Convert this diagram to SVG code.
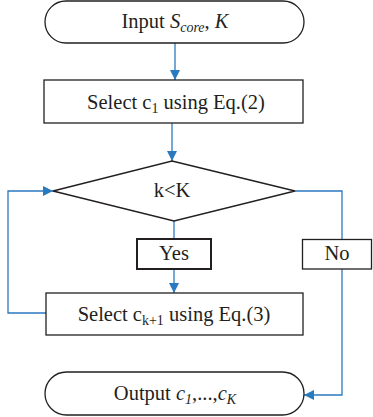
<svg xmlns="http://www.w3.org/2000/svg" width="373" height="417" viewBox="0 0 373 417">
<style>
.n{fill:#fff;stroke:#231f20;stroke-width:1.3}
.b{fill:#fff;stroke:#231f20;stroke-width:2}
.t{font-family:"Liberation Serif","Times New Roman",serif;font-size:20.5px;fill:#231f20;text-anchor:middle}
.c{fill:none;stroke:#2a7ac0;stroke-width:1.3}
</style>
<defs>
<marker id="ah" viewBox="0 0 10 10" refX="10" refY="5" markerWidth="10" markerHeight="10" markerUnits="userSpaceOnUse" orient="auto">
<path d="M0,0 L10,5 L0,10 Z" fill="#2a7ac0"/>
</marker>
</defs>
<g id="connectors">
<path class="c" d="M175,43 V80" marker-end="url(#ah)"/>
<path class="c" d="M172,123 V161" marker-end="url(#ah)"/>
<path class="c" d="M174,221 V239"/>
<path class="c" d="M174,269 V293" marker-end="url(#ah)"/>
<path class="c" d="M46,313 H8 V191 H53" marker-end="url(#ah)"/>
<path class="c" d="M295,191 H342 V239"/>
<path class="c" d="M342,269 V395 H304" marker-end="url(#ah)"/>
</g>
<g id="input">
<rect class="n" x="45" y="1" width="259" height="42" rx="21" ry="21"/>
<text class="t" x="175" y="28">Input <tspan font-style="italic">S</tspan><tspan font-style="italic" font-size="14" dy="4">core</tspan><tspan dy="-4">, </tspan><tspan font-style="italic">K</tspan></text>
</g>
<g id="select1">
<rect class="n" x="44" y="80" width="259" height="43"/>
<text class="t" x="176" y="109">Select c<tspan font-size="14" dy="4">1</tspan><tspan dy="-4"> using Eq.(2)</tspan></text>
</g>
<g id="decision">
<polygon class="n" points="172,161 295,191 174,221 53,191"/>
<text class="t" x="172" y="197">k&lt;K</text>
</g>
<g id="yes">
<rect class="b" x="137" y="239" width="74" height="30"/>
<text class="t" x="174" y="260">Yes</text>
</g>
<g id="no">
<rect class="n" x="302.5" y="239.5" width="69" height="29.5"/>
<text class="t" x="337" y="260">No</text>
</g>
<g id="select2">
<rect class="n" x="46" y="293" width="257" height="42"/>
<text class="t" x="174" y="321">Select c<tspan font-size="14" dy="4">k+1</tspan><tspan dy="-4"> using Eq.(3)</tspan></text>
</g>
<g id="output">
<rect class="n" x="45" y="372" width="259" height="43" rx="21.5" ry="21.5"/>
<text class="t" x="175" y="400">Output <tspan font-style="italic">c</tspan><tspan font-style="italic" font-size="14" dy="4">1</tspan><tspan dy="-4">,...,</tspan><tspan font-style="italic">c</tspan><tspan font-style="italic" font-size="14" dy="4">K</tspan></text>
</g>
</svg>
